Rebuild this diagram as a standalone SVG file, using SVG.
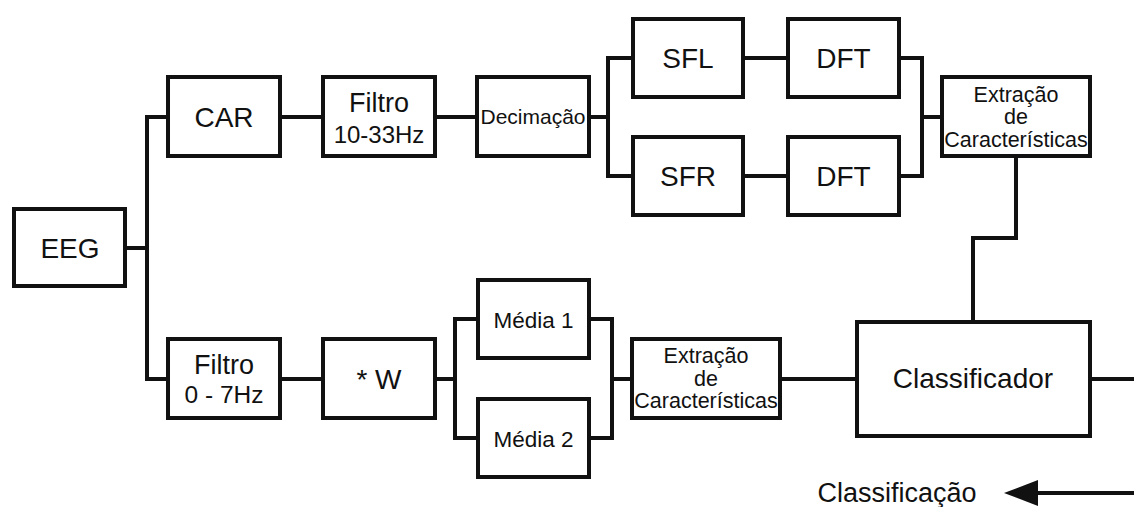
<svg xmlns="http://www.w3.org/2000/svg" width="1134" height="507" viewBox="0 0 1134 507">
<style>
.b{fill:#fff;stroke:#111;stroke-width:4}
.c{fill:none;stroke:#111;stroke-width:4;stroke-linejoin:miter}
text{font-family:"Liberation Sans",Arial,sans-serif;fill:#111;text-anchor:middle}
.l{font-size:28px}
.m{font-size:24px}
.s{font-size:21.5px}
</style>
<rect width="1134" height="507" fill="#fff"/>
<g id="connectors">
<path class="c" d="M127 248H147M166 117H147V379H166"/>
<path class="c" d="M282 117H321M437 117H475M591 117H608M631 58H608V176H631"/>
<path class="c" d="M745 58H786M745 176H786M901 58H922V176H901M922 117H940"/>
<path class="c" d="M1016 157V238H973V320"/>
<path class="c" d="M282 379H321M437 379H455M476 319H455V438H476"/>
<path class="c" d="M591 319H612V438H591M612 379H630M782 379H855M1092 379H1134"/>
<path class="c" d="M1036 493H1134"/>
<polygon points="1004,493 1038,480 1038,506" fill="#111"/>
</g>
<g id="eeg"><rect class="b" x="14" y="209" width="111" height="77"/><text class="l" x="70" y="258">EEG</text></g>
<g id="car"><rect class="b" x="168" y="77" width="112" height="79"/><text class="l" x="224" y="127">CAR</text></g>
<g id="filtro1"><rect class="b" x="323" y="77" width="112" height="79"/><text x="379" y="112" font-size="27">Filtro</text><text class="m" x="379" y="143">10-33Hz</text></g>
<g id="decimacao"><rect class="b" x="477" y="77" width="112" height="79"/><text x="533" y="124" font-size="21">Decimação</text></g>
<g id="sfl"><rect class="b" x="633" y="19" width="110" height="78"/><text class="l" x="688" y="68">SFL</text></g>
<g id="sfr"><rect class="b" x="633" y="137" width="110" height="78"/><text class="l" x="688" y="186">SFR</text></g>
<g id="dft1"><rect class="b" x="788" y="19" width="111" height="78"/><text class="l" x="843.5" y="68">DFT</text></g>
<g id="dft2"><rect class="b" x="788" y="137" width="111" height="78"/><text class="l" x="843.5" y="186">DFT</text></g>
<g id="extracao1"><rect class="b" x="942" y="77" width="148" height="79"/><text class="s" x="1016" y="102">Extração</text><text class="s" x="1016" y="124">de</text><text class="s" x="1016" y="147">Características</text></g>
<g id="filtro2"><rect class="b" x="168" y="339" width="112" height="79"/><text x="224" y="374" font-size="27">Filtro</text><text x="224" y="403" font-size="24.5">0 - 7Hz</text></g>
<g id="w"><rect class="b" x="323" y="339" width="112" height="79"/><text class="l" x="379" y="389">* W</text></g>
<g id="media1"><rect class="b" x="478" y="280" width="111" height="78"/><text x="533.5" y="328" font-size="22.5">Média 1</text></g>
<g id="media2"><rect class="b" x="478" y="399" width="111" height="78"/><text x="533.5" y="447" font-size="22.5">Média 2</text></g>
<g id="extracao2"><rect class="b" x="632" y="339" width="148" height="79"/><text class="s" x="706" y="363">Extração</text><text class="s" x="706" y="386">de</text><text class="s" x="706" y="408">Características</text></g>
<g id="classificador"><rect class="b" x="857" y="322" width="233" height="114"/><text class="l" x="973" y="388">Classificador</text></g>
<g id="classificacao"><text x="897" y="502" font-size="27">Classificação</text></g>
</svg>
